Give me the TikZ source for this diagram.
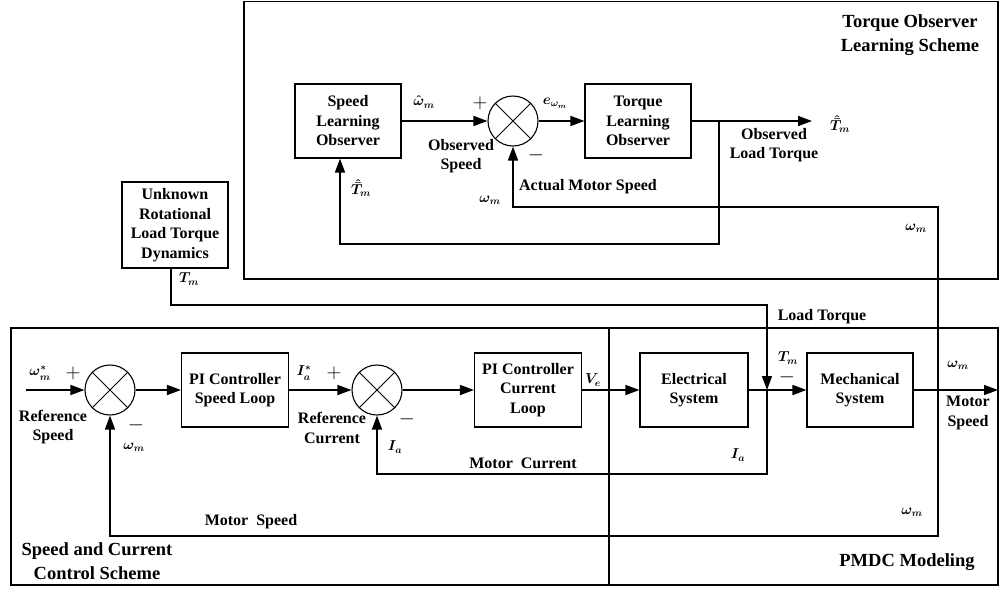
\documentclass[tikz,border=0pt]{standalone}
\usepackage{fontspec}
\setmainfont{Liberation Serif}
\usepackage{amsmath}
\usepackage{tikz}
\usetikzlibrary{arrows.meta}
\tikzset{
  font={\fontsize{16pt}{19.5pt}\selectfont\bfseries}}

\begin{document}
\begin{tikzpicture}[x=1pt,y=1pt]
\tikzstyle{every node}+=[inner sep=0pt]
\tikzstyle{block}=[draw,line width=1.1pt,align=center,minimum width=106pt,minimum height=74pt]
\tikzstyle{mixer}=[draw,circle,line width=1.1pt,minimum size=50pt,path picture={\draw[line width=0.8pt] (path picture bounding box.north west) -- (path picture bounding box.south east) (path picture bounding box.north east) -- (path picture bounding box.south west);}]
\tikzstyle{sig}=[line width=1.6pt,-{Triangle[length=14pt,width=10pt]}]
\tikzstyle{groupbox}=[line width=1.4pt]
\tikzstyle{lbl}=[align=center]
\tikzstyle{sym}=[font={\fontsize{14pt}{16pt}\selectfont\boldmath}]
\tikzstyle{pm}=[font={\fontsize{21pt}{21pt}\selectfont}]
\tikzstyle{scheme}=[align=center,font={\fontsize{18.5pt}{24pt}\selectfont\bfseries}]
\useasboundingbox (0,0) rectangle (1000,-590);
\draw[groupbox] (244,-1.5) rectangle (998,-279);
\draw[groupbox] (11,-328) rectangle (609,-585);
\draw[groupbox] (609,-328) rectangle (998,-585);
\node[scheme] (obstitle) at (910,-35) {Torque Observer\\Learning Scheme};
\node[scheme] (ctltitle) at (97,-561) {Speed and Current\\Control Scheme};
\node[scheme] (pmdctitle) at (907,-562) {PMDC Modeling};
% observer loop
\node[block] (slo) at (348,-121) {Speed\\Learning\\Observer};
\node[mixer] (sumo) at (513,-121) {};
\node[block] (tlo) at (638,-121) {Torque\\Learning\\Observer};
\coordinate (tout) at (812,-121);
\coordinate (tjn) at (719,-121);
\coordinate (tlow) at (719,-244);
\node[block,minimum height=86pt] (unk) at (175,-225) {Unknown\\Rotational\\Load Torque\\Dynamics};
% drive loops
\coordinate (ref) at (26,-390);
\node[mixer] (sums) at (110,-390) {};
\node[block,minimum width=107pt] (pis) at (235,-390) {PI Controller\\Speed Loop};
\node[mixer] (sumc) at (377,-390) {};
\node[block,minimum width=107pt] (pic) at (528,-390) {PI Controller\\Current\\Loop};
\node[block,minimum width=108pt] (elec) at (694,-390) {Electrical\\System};
\node[block] (mech) at (860,-390) {Mechanical\\System};
\coordinate (wout) at (998,-390);
\coordinate (itap) at (767,-390);
\coordinate (ilow) at (767,-474);
\coordinate (lbend) at (767,-305);
\coordinate (wtap) at (938,-390);
\coordinate (wtop) at (938,-207);
\coordinate (wlow) at (938,-536);
\draw[sig] (slo) -- (sumo);
\draw[sig] (sumo) -- (tlo);
\draw[sig] (tlo) -- (tout);
\draw[sig] (tjn) -- (tlow) -| ([xshift=-8pt]slo.south);
\draw[sig] (ref) -- (sums);
\draw[sig] (sums) -- (pis);
\draw[sig] (pis) -- (sumc);
\draw[sig] (sumc) -- (pic);
\draw[sig] (pic) -- (elec);
\draw[sig] (elec) -- (mech);
\draw[sig] (mech) -- (wout);
\draw[sig] (itap) -- (ilow) -| (sumc.south);
\draw[sig] (wtap) -- (wlow) -| (sums.south);
\draw[sig] (wtap) -- (wtop) -| (sumo.south);
\draw[sig] ([xshift=-4pt]unk.south) |- (lbend) -- (itap);
% labels
\node[sym] (whatlbl) at (424,-102) {$\hat{\omega}_m$};
\node[pm] (plo) at (480,-103) {$+$};
\node[sym] (elbl) at (555,-103) {$e_{\omega_m}$};
\node[lbl] (obsspd) at (461,-156) {Observed\\Speed};
\node[pm] (mio) at (536,-155) {$-$};
\node[lbl] (actspd) at (588,-187) {Actual Motor Speed};
\node[sym] (wlbla) at (490,-200) {$\omega_m$};
\node[sym] (wlblb) at (916,-228) {$\omega_m$};
\node[sym] (thlbla) at (361,-188) {$\hat{\bar{T}}_m$};
\node[sym] (thlblb) at (840,-124) {$\hat{\bar{T}}_m$};
\node[lbl] (obstq) at (774,-145) {Observed\\Load Torque};
\node[sym] (tmlbl) at (189,-279) {$T_m$};
\node[lbl] (ldtq) at (822,-317) {Load Torque};
\node[sym] (wref) at (40,-373) {$\omega_m^*$};
\node[pm] (pls) at (73,-373) {$+$};
\node[lbl] (refspd) at (53,-427) {Reference\\Speed};
\node[pm] (mis) at (136,-425) {$-$};
\node[sym] (wlblc) at (134,-447) {$\omega_m$};
\node[sym] (iref) at (304,-373) {$I_a^*$};
\node[pm] (plc) at (334,-373) {$+$};
\node[lbl] (refcur) at (332,-428) {Reference\\Current};
\node[pm] (mic) at (407,-419) {$-$};
\node[sym] (ilbla) at (395,-447) {$I_a$};
\node[lbl] (motcur) at (523,-463) {Motor~~Current};
\node[sym] (velbl) at (593,-380) {$V_e$};
\node[sym] (tmlblb) at (788,-358) {$T_m$};
\node[pm] (mim) at (787,-377) {$-$};
\node[sym] (ilblb) at (738,-455) {$I_a$};
\node[sym] (wlbld) at (958,-365) {$\omega_m$};
\node[lbl] (motspdr) at (968,-413) {Motor\\Speed};
\node[sym] (wlble) at (912,-512) {$\omega_m$};
\node[lbl] (motspd) at (251,-522) {Motor~~Speed};
\end{tikzpicture}
\end{document}
